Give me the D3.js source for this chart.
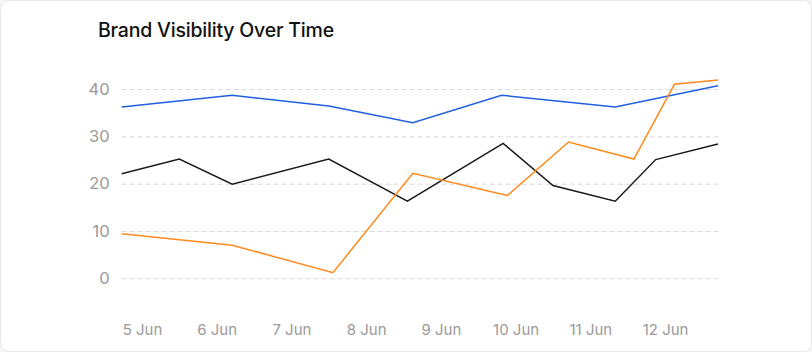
<!DOCTYPE html>
<html>
<head>
<meta charset="utf-8">
<script src="https://cdn.jsdelivr.net/npm/d3@7"></script>
<style>
  html, body { margin: 0; padding: 0; background: #f5f5f5; }
  body { width: 812px; height: 352px; overflow: hidden; font-family: Inter, "Noto Sans", sans-serif; }
</style>
</head>
<body>
<div id="chart"></div>
<script>
// values
const blueDates = ["2024-06-04T17:30Z", "2024-06-06T05:00Z", "2024-06-07T12:00Z", "2024-06-08T15:00Z", "2024-06-09T19:30Z", "2024-06-11T08:00Z", "2024-06-12T17:00Z"];
const blueValues = [36.2, 38.7, 36.4, 32.9, 38.7, 36.2, 40.7];

const blackDates = ["2024-06-04T17:30Z", "2024-06-05T12:00Z", "2024-06-06T05:00Z", "2024-06-07T12:00Z", "2024-06-08T13:15Z", "2024-06-09T20:00Z", "2024-06-10T12:00Z", "2024-06-11T08:00Z", "2024-06-11T21:00Z", "2024-06-12T17:00Z"];
const blackValues = [22.1, 25.2, 19.9, 25.2, 16.3, 28.5, 19.6, 16.3, 25.1, 28.4];

const orangeDates = ["2024-06-04T17:30Z", "2024-06-06T05:00Z", "2024-06-07T13:20Z", "2024-06-08T15:00Z", "2024-06-09T21:20Z", "2024-06-10T17:00Z", "2024-06-11T14:00Z", "2024-06-12T03:00Z", "2024-06-12T17:00Z"];
const orangeValues = [9.4, 7.0, 1.2, 22.2, 17.5, 28.8, 25.2, 41.0, 41.9];

const yTicks = [0, 10, 20, 30, 40];
const title = "Brand Visibility Over Time";

const series = [
  { dates: blueDates, values: blueValues, color: "#1f5fe0" },
  { dates: blackDates, values: blackValues, color: "#1a1a1a" },
  { dates: orangeDates, values: orangeValues, color: "#ff8a1c" }
].map(s => ({
  color: s.color,
  points: s.dates.map((d, i) => ({ date: new Date(d), value: s.values[i] }))
}));

const svgWidth = 812;
const svgHeight = 352;
const margin = { top: 79.6, right: 94, bottom: 73.7, left: 121.7 };
const width = svgWidth - margin.left - margin.right;
const height = svgHeight - margin.top - margin.bottom;

const svg = d3.select("#chart")
  .append("svg")
  .attr("width", svgWidth)
  .attr("height", svgHeight);

// card
svg.append("rect")
  .attr("x", 0.5).attr("y", 0.5)
  .attr("width", svgWidth - 1).attr("height", svgHeight - 1)
  .attr("rx", 8)
  .style("fill", "#fff")
  .style("stroke", "#e6e6e6");

svg.append("text")
  .attr("x", 98)
  .attr("y", 37)
  .style("font-size", "19.5px")
  .style("font-weight", 500)
  .style("letter-spacing", "-0.2px")
  .style("fill", "#111")
  .text(title);

const g = svg.append("g")
  .attr("transform", `translate(${margin.left},${margin.top})`);

const allDates = series.flatMap(s => s.points.map(p => p.date));
const x = d3.scaleUtc()
  .domain(d3.extent(allDates))
  .range([0, width]);

const y = d3.scaleLinear()
  .domain([0, 42])
  .range([height, 0]);

// grid + y labels
const yAxis = g.append("g")
  .call(d3.axisLeft(y).tickValues(yTicks).tickSize(-width).tickPadding(12).tickFormat(d3.format("d")));
yAxis.select(".domain").remove();
yAxis.selectAll(".tick line")
  .style("stroke", "#d9d9d9")
  .style("stroke-dasharray", "5,3")
  .attr("x1", 0);
yAxis.selectAll(".tick text")
  .style("font-family", "Inter, sans-serif")
  .style("font-size", "16.5px")
  .style("fill", "#9a9a9a");

// x labels
const xAxis = g.append("g")
  .attr("transform", `translate(0,${height})`)
  .call(d3.axisBottom(x).ticks(d3.utcDay.every(1)).tickSize(0).tickPadding(46).tickFormat(d3.utcFormat("%-d %b")));
xAxis.select(".domain").remove();
xAxis.selectAll(".tick text")
  .style("font-family", "Inter, sans-serif")
  .style("font-size", "15px")
  .style("fill", "#9a9a9a");

const line = d3.line()
  .x(d => x(d.date))
  .y(d => y(d.value));

g.selectAll(".series")
  .data(series)
  .join("path")
  .attr("class", "series")
  .attr("d", d => line(d.points))
  .style("fill", "none")
  .style("stroke", d => d.color)
  .style("stroke-width", 1.5)
  .style("stroke-linejoin", "miter");
</script>
</body>
</html>
